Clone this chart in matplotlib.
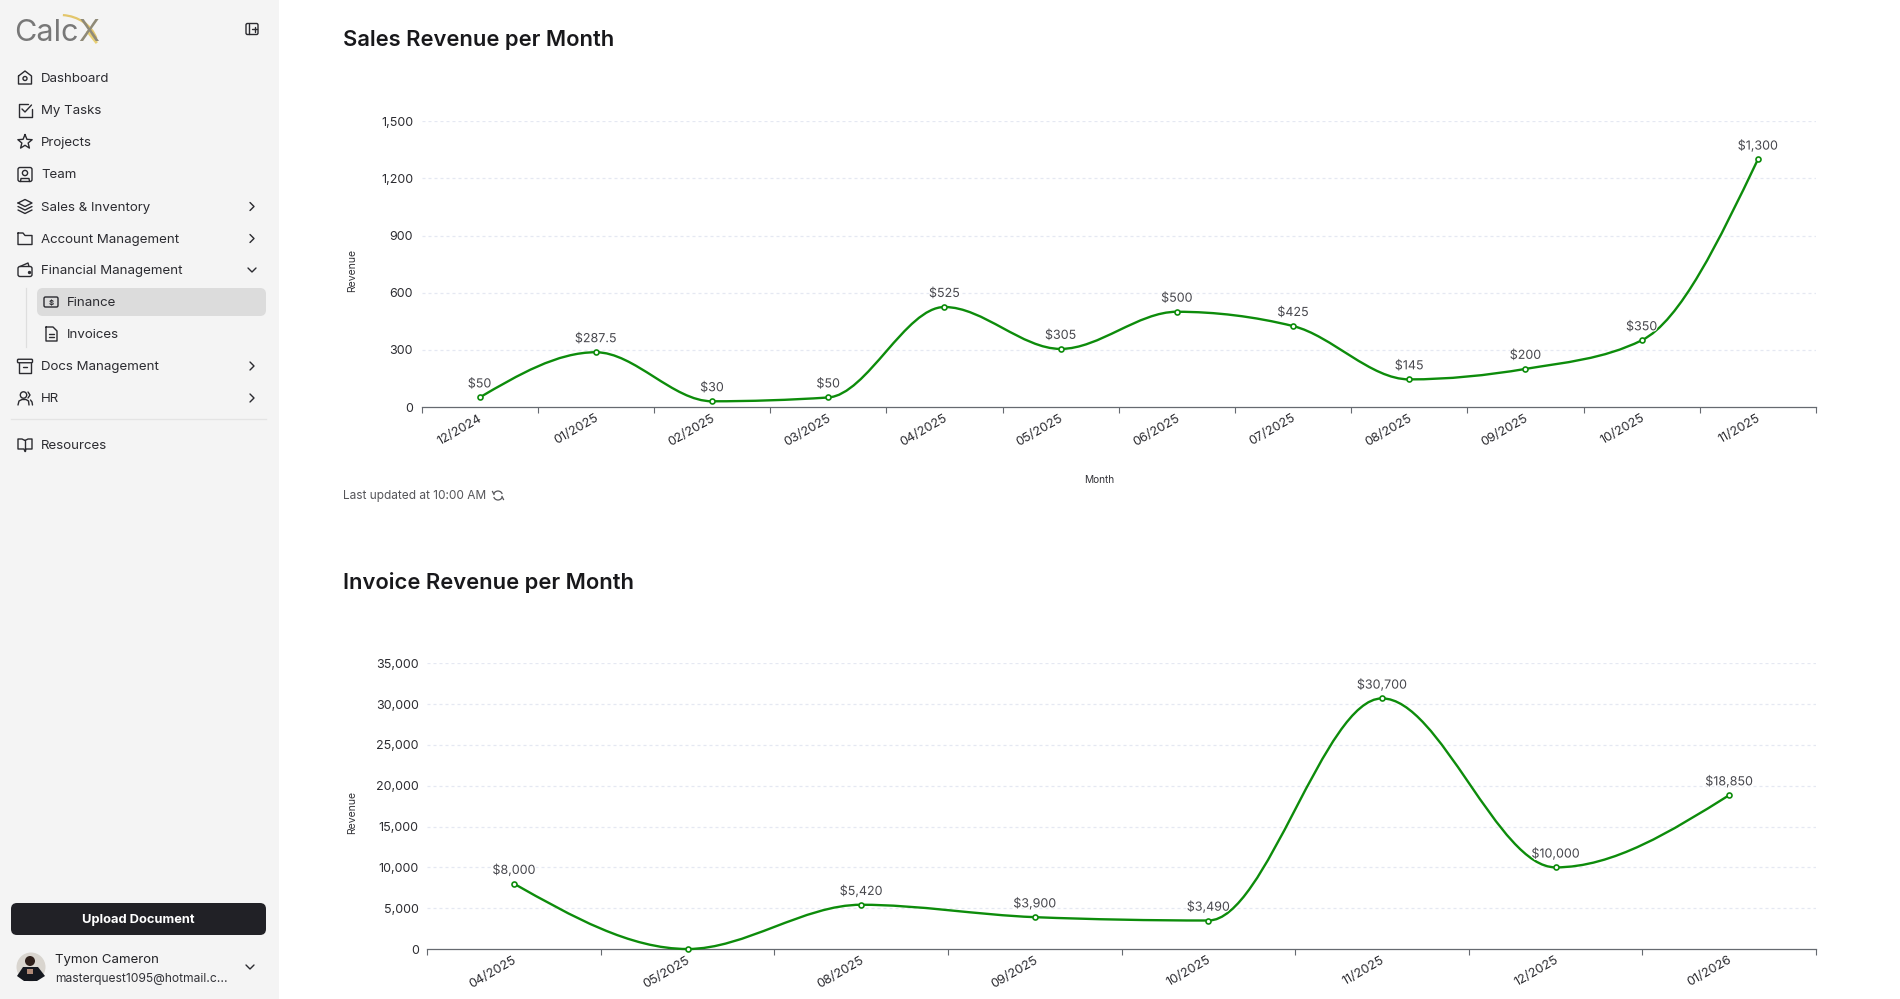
import numpy as np
import matplotlib
matplotlib.use("Agg")
import matplotlib.pyplot as plt
import matplotlib.patheffects as pe
from matplotlib.patches import FancyBboxPatch, Circle, Arc, PathPatch, Rectangle, Polygon
from matplotlib.path import Path

plt.rcParams['font.family'] = ['Inter', 'DejaVu Sans']

W, H = 1900, 999
GREEN = '#0d8c0b'
INK = '#2b2b30'

# Chart data
sales_months = ['12/2024', '01/2025', '02/2025', '03/2025', '04/2025', '05/2025',
                '06/2025', '07/2025', '08/2025', '09/2025', '10/2025', '11/2025']
sales_values = [50, 287.5, 30, 50, 525, 305, 500, 425, 145, 200, 350, 1300]
sales_ticks = [0, 300, 600, 900, 1200, 1500]

invoice_months = ['04/2025', '05/2025', '08/2025', '09/2025', '10/2025', '11/2025',
                  '12/2025', '01/2026']
invoice_values = [8000, 0, 5420, 3900, 3490, 30700, 10000, 18850]
invoice_ticks = [0, 5000, 10000, 15000, 20000, 25000, 30000, 35000]

# Sidebar text
menu_items = ['Dashboard', 'My Tasks', 'Projects', 'Team', 'Sales & Inventory',
              'Account Management', 'Financial Management', 'Docs Management', 'HR', 'Resources']
menu_y = [78, 110, 142, 174.5, 206.5, 238.5, 270, 366, 398, 445]
chevron_right = ['Sales & Inventory', 'Account Management', 'Docs Management', 'HR']


def monotone_path(x, y):
    # same curve as d3 curveMonotoneX
    x = np.asarray(x, float)
    y = np.asarray(y, float)
    h = np.diff(x)
    s = np.diff(y) / h
    t = np.zeros(len(x))
    for i in range(1, len(x) - 1):
        p = (s[i - 1] * h[i] + s[i] * h[i - 1]) / (h[i - 1] + h[i])
        t[i] = (np.sign(s[i - 1]) + np.sign(s[i])) * min(abs(s[i - 1]), abs(s[i]), 0.5 * abs(p))
    t[0] = (3 * s[0] - t[1]) / 2
    t[-1] = (3 * s[-1] - t[-2]) / 2
    verts = [(x[0], y[0])]
    codes = [Path.MOVETO]
    for i in range(len(h)):
        d = h[i] / 3
        verts += [(x[i] + d, y[i] + d * t[i]), (x[i + 1] - d, y[i + 1] - d * t[i + 1]), (x[i + 1], y[i + 1])]
        codes += [Path.CURVE4] * 3
    return Path(verts, codes)


def line_chart(fig, box, months, values, yticks):
    left, top, right, bottom = box
    ax = fig.add_axes([left / W, 1 - bottom / H, (right - left) / W, (bottom - top) / H])
    ax.patch.set_alpha(0)
    n = len(months)
    ax.set_xlim(0, n)
    ax.set_ylim(0, yticks[-1])
    xs = np.arange(n) + 0.5

    for s in ['top', 'right', 'left']:
        ax.spines[s].set_visible(False)
    ax.spines['bottom'].set_color('#666a70')
    ax.spines['bottom'].set_linewidth(0.9)

    ax.set_yticks(yticks, [f'{v:,}' for v in yticks])
    ax.tick_params(axis='y', length=0, pad=6, labelsize=9, labelcolor='#2c2c31')
    ax.set_xticks(np.arange(n + 1), [''] * (n + 1))
    ax.tick_params(axis='x', length=4, width=0.8, color='#666a70')
    for v in yticks[1:]:
        ax.axhline(v, color='#e5e8f2', lw=0.9, dashes=(2.4, 2.4), zorder=1)

    ax.add_patch(PathPatch(monotone_path(xs, values), fc='none', ec=GREEN, lw=1.7, zorder=3, clip_on=False))
    ax.plot(xs, values, ls='none', marker='o', ms=3.6, mfc='white', mec=GREEN, mew=1.2, zorder=4, clip_on=False)

    halo = [pe.withStroke(linewidth=1.6, foreground='white')]
    for x, v in zip(xs, values):
        if v:
            ax.annotate(f'${v:,}', (x, v), xytext=(0, 9.4), textcoords='offset points', ha='center',
                        va='center', fontsize=9, color='#47474d', path_effects=halo, zorder=5)
    for x, m in zip(xs, months):
        ax.annotate(m, (x, 0), xytext=(1.3, -7.5), textcoords='offset points', ha='right', va='center',
                    rotation=30, rotation_mode='anchor', fontsize=9.2, color='#2c2c31', annotation_clip=False)
    return ax


def rbox(ui, x0, y0, x1, y1, r, **kw):
    ui.add_patch(FancyBboxPatch((x0 + r, y0 + r), x1 - x0 - 2 * r, y1 - y0 - 2 * r,
                                boxstyle=f'round,pad={r},rounding_size={r}', **kw))


def icon_line(ui, cx, cy, pts, closed=False):
    px = [cx + p[0] for p in pts]
    py = [cy + p[1] for p in pts]
    if closed:
        px.append(px[0])
        py.append(py[0])
    ui.plot(px, py, color=INK, lw=1.0, solid_capstyle='round', solid_joinstyle='round')


def icon_box(ui, cx, cy, w, h, r=2):
    rbox(ui, cx - w / 2, cy - h / 2, cx + w / 2, cy + h / 2, r, fc='none', ec=INK, lw=1.0)


def chevron(ui, x, y, down=False):
    if down:
        icon_line(ui, x, y, [(-4, -2), (0, 2), (4, -2)])
    else:
        icon_line(ui, x, y, [(-2, -4), (2, 0), (-2, 4)])


def draw_icon(ui, name, cx, cy):
    if name == 'Dashboard':
        icon_line(ui, cx, cy, [(-6.5, -2), (0, -7), (6.5, -2), (6.5, 6), (-6.5, 6)], closed=True)
        ui.add_patch(Circle((cx, cy + 0.5), 2, fc='none', ec=INK, lw=1.0))
    elif name == 'My Tasks':
        icon_line(ui, cx, cy, [(6.5, -1), (6.5, 6.5), (-6.5, 6.5), (-6.5, -6.5), (3, -6.5)])
        icon_line(ui, cx, cy, [(-3, -1), (0, 2), (6.5, -5)])
    elif name == 'Projects':
        ang = np.deg2rad(np.arange(10) * 36 - 90)
        rad = np.array([7.5, 3.3] * 5)
        icon_line(ui, cx, cy, list(zip(rad * np.cos(ang), rad * np.sin(ang))), closed=True)
    elif name == 'Team':
        icon_box(ui, cx, cy, 14, 14)
        ui.add_patch(Circle((cx, cy - 1.5), 2.6, fc='none', ec=INK, lw=1.0))
        icon_line(ui, cx, cy, [(-4.5, 7), (-4, 4), (4, 4), (4.5, 7)])
    elif name == 'Sales & Inventory':
        icon_line(ui, cx, cy, [(-7, -3.5), (0, -7), (7, -3.5), (0, 0)], closed=True)
        icon_line(ui, cx, cy, [(-7, 0), (0, 3.5), (7, 0)])
        icon_line(ui, cx, cy, [(-7, 3.5), (0, 7), (7, 3.5)])
    elif name == 'Account Management':
        icon_line(ui, cx, cy, [(-7, -5.5), (-2, -5.5), (0, -3), (7, -3), (7, 6), (-7, 6)], closed=True)
    elif name == 'Financial Management':
        icon_box(ui, cx, cy + 1.5, 14, 10)
        icon_line(ui, cx, cy, [(-5, -3.5), (3, -7), (4, -3.5)])
        ui.plot([cx + 4], [cy + 2], 'o', color=INK, ms=1.4)
    elif name == 'Docs Management':
        icon_box(ui, cx, cy - 5, 15, 3.5, r=1)
        icon_line(ui, cx, cy, [(-6, -3), (-6, 7), (6, 7), (6, -3)])
        icon_line(ui, cx, cy, [(-2, 0.5), (2, 0.5)])
    elif name == 'HR':
        ui.add_patch(Circle((cx - 1.5, cy - 3), 3.2, fc='none', ec=INK, lw=1.0))
        icon_line(ui, cx, cy, [(-7, 7), (-6, 3), (-3, 1.5), (1, 1.5), (3.5, 3), (4, 7)])
        icon_line(ui, cx, cy, [(3, -6), (5, -3), (3, 0)])
        icon_line(ui, cx, cy, [(5.5, 2), (7, 4), (7.5, 7)])
    elif name == 'Resources':
        icon_line(ui, cx, cy, [(0, -4.5), (-3, -6), (-7, -6), (-7, 4), (-1, 4), (0, 6.5), (1, 4), (7, 4), (7, -6), (3, -6)], closed=True)
        icon_line(ui, cx, cy, [(0, -4.5), (0, 6)])


fig = plt.figure(figsize=(W / 100, H / 100), dpi=100, facecolor='white')

# full page layer in pixel coordinates
ui = fig.add_axes([0, 0, 1, 1])
ui.set_xlim(0, W)
ui.set_ylim(H, 0)
ui.axis('off')

ui.add_patch(Rectangle((0, 0), 279, H, fc='#f4f4f4', ec='none'))

# logo
ui.text(14, 33, 'Calc', fontsize=22, color='#787878', va='center', ha='left')
ui.text(78, 33, 'X', fontsize=22, color='#8f8a78', va='center', ha='left')
ui.add_patch(Arc((60, 48), 76, 66, theta1=275, theta2=345, color='#e3c66b', lw=1.6))
ui.plot([88, 96], [32, 42], color='#e8cf74', lw=2)

# collapse icon
icon_box(ui, 252, 29, 12, 11, r=1.5)
icon_line(ui, 0, 0, [(249, 24), (249, 34)])
icon_line(ui, 0, 0, [(252, 29), (257, 29)])
icon_line(ui, 0, 0, [(254.5, 26.5), (254.5, 31.5)])

for name, y in zip(menu_items, menu_y):
    ui.text(41, y + 1, name, fontsize=9.55, color=INK, va='center', ha='left')
    draw_icon(ui, name, 25, y)
    if name in chevron_right:
        chevron(ui, 252, y)
chevron(ui, 252, 270, down=True)

# sub menu
ui.plot([25.5, 25.5], [288, 347], color='#dedede', lw=0.9)
rbox(ui, 37, 288, 266, 316, 6, fc='#dcdcdc', ec='none')
ui.text(67, 303, 'Finance', fontsize=9.55, color=INK, va='center', ha='left')
ui.text(67, 335, 'Invoices', fontsize=9.55, color=INK, va='center', ha='left')
icon_box(ui, 51, 302, 14, 10, r=1.5)
ui.text(51, 302, '$', fontsize=5.5, color=INK, va='center', ha='center', fontweight='bold')
icon_line(ui, 0, 0, [(46, 327), (53, 327), (57, 331), (57, 341), (46, 341)], closed=True)
icon_line(ui, 0, 0, [(48.5, 333.5), (54, 333.5)])
icon_line(ui, 0, 0, [(48.5, 337), (54, 337)])
ui.plot([11, 266], [419, 419], color='#e4e4e4', lw=0.9)

# bottom of the sidebar
rbox(ui, 11, 903, 266, 935, 6, fc='#212126', ec='none')
ui.text(138.5, 920, 'Upload Document', fontsize=9.3, color='white', va='center', ha='center', fontweight='bold')
ui.add_patch(Circle((31, 967), 14.5, fc='#d9d5cf', ec='none'))
ui.add_patch(Circle((30, 961), 5, fc='#2e1f1a', ec='none'))
ui.add_patch(Polygon([(17, 976), (23, 967), (38, 967), (45, 976), (37, 981), (24, 981)], fc='#15181f', ec='none'))
ui.add_patch(Rectangle((27, 969), 6, 5, fc='#b08a78', ec='none'))
ui.text(55, 960.5, 'Tymon Cameron', fontsize=9.5, color='#222226', va='center', ha='left')
ui.text(55, 979, 'masterquest1095@hotmail.c...', fontsize=8.7, color='#333338', va='center', ha='left')
chevron(ui, 250, 967, down=True)

# headings
ui.text(343, 40.5, 'Sales Revenue per Month', fontsize=15.8, color='#18181b', va='center', ha='left', fontweight='semibold')
ui.text(343, 582.5, 'Invoice Revenue per Month', fontsize=15.8, color='#18181b', va='center', ha='left', fontweight='semibold')

line_chart(fig, (421.5, 121.3, 1816, 407), sales_months, sales_values, sales_ticks)
line_chart(fig, (427.2, 663.3, 1816, 949), invoice_months, invoice_values, invoice_ticks)

ui.text(352.2, 270, 'Revenue', fontsize=7.5, color='#333338', rotation=90, va='center', ha='center')
ui.text(352.2, 812, 'Revenue', fontsize=7.5, color='#333338', rotation=90, va='center', ha='center')
ui.text(1099, 480, 'Month', fontsize=7.3, color='#333338', va='center', ha='center')

ui.text(343, 496, 'Last updated at 10:00 AM', fontsize=8.55, color='#555559', va='center', ha='left')
ui.add_patch(Arc((498, 495.5), 9, 9, theta1=200, theta2=340, color='#555559', lw=0.9))
ui.add_patch(Arc((498, 495.5), 9, 9, theta1=20, theta2=160, color='#555559', lw=0.9))
ui.plot([492.5, 494], [491.5, 494.5], color='#555559', lw=0.9)
ui.plot([503.5, 502], [499.5, 496.5], color='#555559', lw=0.9)

fig.savefig('out.png', dpi=100)
